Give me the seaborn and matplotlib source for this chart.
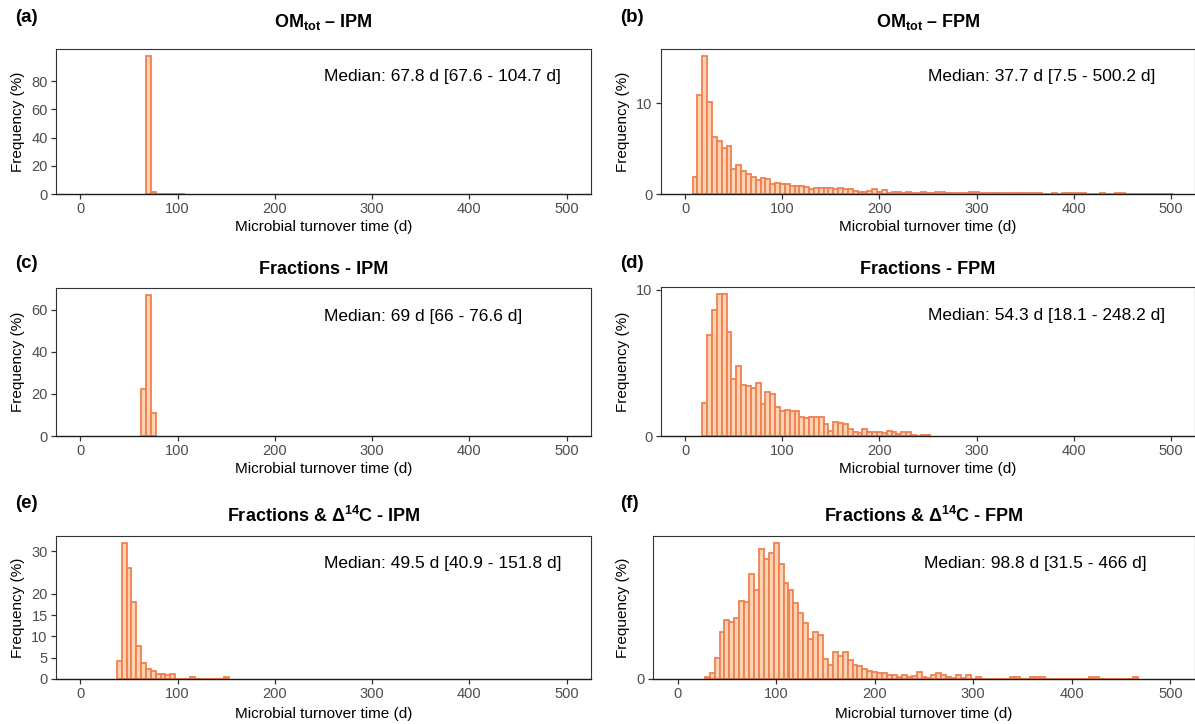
import numpy as np
import pandas as pd
import matplotlib
matplotlib.use("Agg")
import matplotlib.pyplot as plt
import seaborn as sns

# ---------------------------------------------------------------------------
# Histogram data: first bin centre (d) and frequency (%) of consecutive 5-d bins
# ---------------------------------------------------------------------------
BIN_WIDTH = 5
X_TICKS = [0, 100, 200, 300, 400, 500]

om_ipm_start = 70
om_ipm_freq = [97.9, 1.4, 0.3, 0.15, 0.1, 0.05, 0.05, 0.05]

om_fpm_start = 10
om_fpm_freq = [
    1.9, 10.9, 15.2, 10.1, 6.25, 5.8, 5.1, 5.3, 2.8, 3.2,
    2.5, 2.25, 1.9, 1.5, 1.8, 1.7, 1.1, 1.25, 1.15, 1.1,
    0.9, 0.85, 0.85, 0.8, 0.6, 0.7, 0.7, 0.7, 0.65, 0.6,
    0.7, 0.6, 0.55, 0.35, 0.25, 0.25, 0.35, 0.5, 0.25, 0.4,
    0.15, 0.2, 0.2, 0.15, 0.2, 0.15, 0.15, 0.2, 0.15, 0.1,
    0.25, 0.2, 0.15, 0.15, 0.1, 0.15, 0.1, 0.2, 0.2, 0.15,
    0.1, 0.1, 0.1, 0.15, 0.1, 0.1, 0.1, 0.15, 0.1, 0.1,
    0.1, 0.1, 0.05, 0.05, 0.1, 0.05, 0.1, 0.15, 0.15, 0.1,
    0.1, 0.05, 0.05, 0.05, 0.1, 0.05, 0.05, 0.1, 0.1, 0.05,
    0.05, 0.05, 0.05, 0.05, 0.05, 0.05, 0.05, 0.05, 0.05,
]

frac_ipm_start = 65
frac_ipm_freq = [22.1, 66.9, 11.0]

frac_fpm_start = 20
frac_fpm_freq = [
    2.24, 6.9, 8.6, 9.7, 9.7, 7.1, 3.9, 4.8, 3.5, 3.4,
    3.3, 3.6, 2.2, 3.0, 2.9, 2.0, 1.7, 1.8, 1.7, 1.7,
    1.3, 1.2, 1.3, 1.3, 1.3, 0.8, 0.37, 0.96, 0.9, 0.8,
    0.45, 0.3, 0.2, 0.45, 0.3, 0.3, 0.27, 0.23, 0.34, 0.3,
    0.16, 0.27, 0.27, 0.1, 0.0, 0.05, 0.05,
]

c14_ipm_start = 40
c14_ipm_freq = [
    4.2, 32.0, 26.0, 18.0, 7.7, 3.8, 2.3, 1.9, 1.2, 1.2,
    0.9, 1.2, 0.0, 0.0, 0.0, 0.4, 0.0, 0.0, 0.0, 0.0,
    0.0, 0.0, 0.4,
]

c14_fpm_start = 30
c14_fpm_freq = [
    0.08, 0.29, 1.02, 2.26, 2.87, 2.79, 2.98, 3.79, 3.73, 5.08,
    4.32, 6.29, 5.81, 6.10, 6.61, 5.60, 4.66, 4.32, 3.71, 3.19,
    2.74, 1.94, 2.26, 2.15, 0.97, 0.69, 1.29, 1.13, 1.32, 0.92,
    0.69, 0.61, 0.48, 0.37, 0.32, 0.27, 0.27, 0.19, 0.19, 0.08,
    0.19, 0.11, 0.16, 0.35, 0.11, 0.06, 0.19, 0.29, 0.19, 0.11,
    0.06, 0.19, 0.06, 0.19, 0.0, 0.11, 0.0, 0.0, 0.0, 0.0,
    0.0, 0.0, 0.1, 0.1, 0.0, 0.0, 0.1, 0.1, 0.1, 0.0,
    0.0, 0.0, 0.0, 0.0, 0.0, 0.0, 0.0, 0.0, 0.1, 0.1,
    0.0, 0.0, 0.0, 0.0, 0.0, 0.0, 0.0, 0.1,
]

panel_letters = ["(a)", "(b)", "(c)", "(d)", "(e)", "(f)"]
panel_titles = [
    r"OM$_{\mathbf{tot}}$ – IPM",
    r"OM$_{\mathbf{tot}}$ – FPM",
    "Fractions - IPM",
    "Fractions - FPM",
    r"Fractions & Δ$^{\mathbf{14}}$C - IPM",
    r"Fractions & Δ$^{\mathbf{14}}$C - FPM",
]
median_labels = [
    "Median: 67.8 d [67.6 - 104.7 d]",
    "Median: 37.7 d [7.5 - 500.2 d]",
    "Median: 69 d [66 - 76.6 d]",
    "Median: 54.3 d [18.1 - 248.2 d]",
    "Median: 49.5 d [40.9 - 151.8 d]",
    "Median: 98.8 d [31.5 - 466 d]",
]
y_ticks = [
    [0, 20, 40, 60, 80],
    [0, 10],
    [0, 20, 40, 60],
    [0, 10],
    [0, 5, 10, 15, 20, 30],
    [0],
]
series = [
    (om_ipm_start, om_ipm_freq),
    (om_fpm_start, om_fpm_freq),
    (frac_ipm_start, frac_ipm_freq),
    (frac_fpm_start, frac_fpm_freq),
    (c14_ipm_start, c14_ipm_freq),
    (c14_fpm_start, c14_fpm_freq),
]

# ---------------------------------------------------------------------------
# Style
# ---------------------------------------------------------------------------
sns.set_theme(style="white")
plt.rcParams["font.family"] = ["Liberation Sans", "DejaVu Sans"]
plt.rcParams["mathtext.fontset"] = "custom"
plt.rcParams["mathtext.rm"] = "Liberation Sans"
plt.rcParams["mathtext.bf"] = "Liberation Sans:bold"
plt.rcParams["text.color"] = "black"
plt.rcParams["axes.labelcolor"] = "black"

FILL = "#FDD3B1"
EDGE = "#EF8152"
TICK_TXT = "#4D4D4D"
FRAME = "#333333"

W, H = 1195, 724
fig = plt.figure(figsize=(W / 100, H / 100), dpi=100)


def fx(px):
    return px / W


def fy(py):
    return 1 - py / H


# panel boxes in pixels: (left, top, right, bottom)
boxes = [
    (56, 49, 591, 194),
    (661, 49, 1195, 194),
    (56, 288, 591, 436),
    (661, 287, 1195, 436),
    (56, 536, 591, 679),
    (653, 536, 1195, 679),
]
title_y = [22, 22, 270, 270, 516, 516]
letter_y = [18, 18, 264, 264, 503, 503]
xlabel_y = [227, 227, 469, 469, 714, 714]

for i, (start, freq) in enumerate(series):
    l, t, r, b = boxes[i]
    ax = fig.add_axes([fx(l), fy(b), fx(r) - fx(l), fy(t) - fy(b)])

    centres = start + BIN_WIDTH * np.arange(len(freq))
    df = pd.DataFrame({"turnover": centres, "freq": freq})
    lo = float(centres[0] - BIN_WIDTH / 2)
    hi = float(centres[-1] + BIN_WIDTH / 2)
    sns.histplot(
        data=df, x="turnover", weights="freq", binwidth=BIN_WIDTH,
        binrange=(lo, hi), ax=ax,
        color=FILL, edgecolor=EDGE, linewidth=1.3, alpha=1.0,
    )

    ax.set_xlim(-25, 525)
    ax.set_ylim(0, max(freq) * 1.05)
    ax.set_xticks(X_TICKS)
    ax.set_yticks(y_ticks[i])
    ax.set_xlabel("")
    ax.set_ylabel("")
    ax.tick_params(axis="both", which="both", direction="out", length=3.5,
                   width=0.9, color=FRAME, labelsize=10.5,
                   labelcolor=TICK_TXT, pad=2.5, bottom=True, left=True)
    for side, sp in ax.spines.items():
        sp.set_color(FRAME)
        sp.set_linewidth(0.8)
        sp.set_visible(True)
    ax.spines["bottom"].set_color("#1a1a1a")
    ax.spines["bottom"].set_linewidth(1.0)
    ax.grid(False)

    ax.text(250, 0.81, median_labels[i], transform=ax.get_xaxis_transform(),
            ha="left", va="center", fontsize=12.5, color="black")

    cx = (l + r) / 2
    fig.text(fx(cx), fy(title_y[i]), panel_titles[i], ha="center", va="center",
             fontsize=13, fontweight="bold", color="black")
    fig.text(fx(15 if i % 2 == 0 else 620), fy(letter_y[i]), panel_letters[i],
             ha="left", va="center", fontsize=13.5, fontweight="bold",
             color="black")
    fig.text(fx(cx), fy(xlabel_y[i]), "Microbial turnover time (d)",
             ha="center", va="center", fontsize=11, color="black")
    fig.text(fx(18 if i % 2 == 0 else 623), fy((t + b) / 2), "Frequency (%)",
             ha="center", va="center", rotation=90, fontsize=11,
             color="black")

fig.savefig("out.png", dpi=100, facecolor="white")
